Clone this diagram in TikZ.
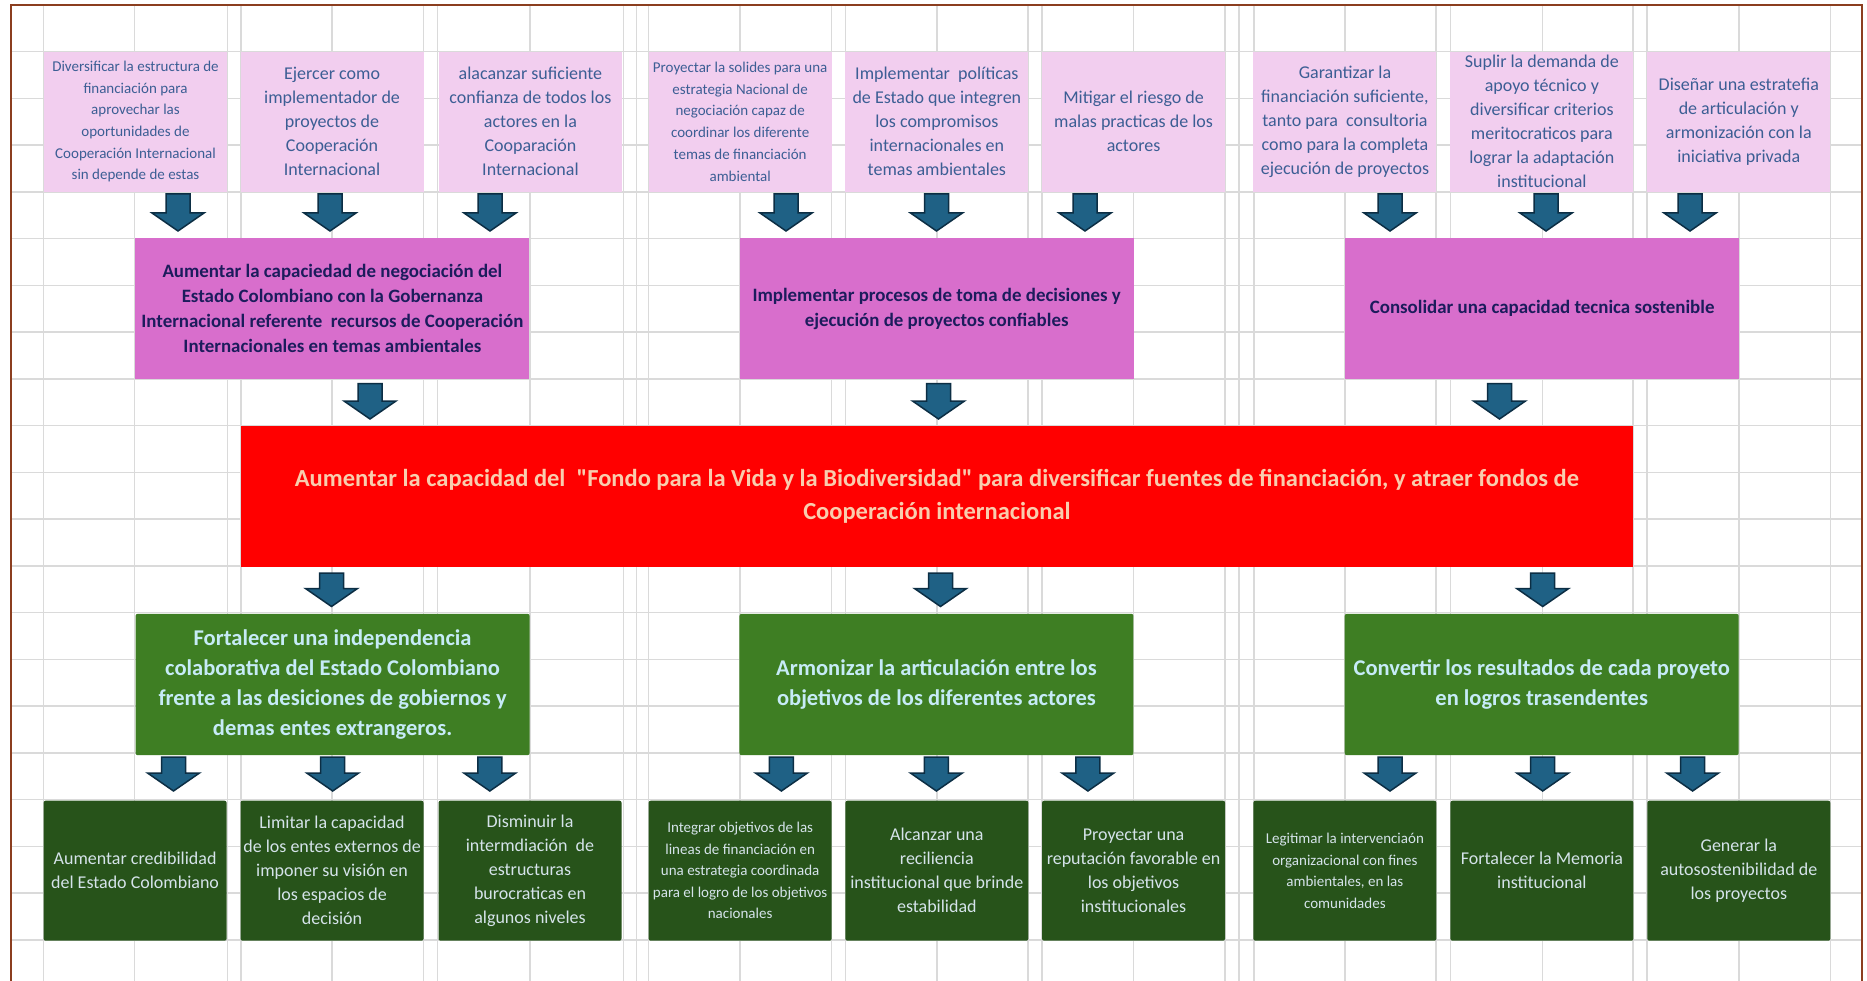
\documentclass[tikz,border=0pt]{standalone}
\usepackage{fontspec}
\setmainfont{Carlito}
\newfontfamily\rawcarlito{Carlito}
\definecolor{toppink}{HTML}{F2CEEF}
\definecolor{topblue}{HTML}{3C5E94}
\definecolor{midpink}{HTML}{D86ECC}
\definecolor{navytxt}{HTML}{1C1C5C}
\definecolor{redfill}{HTML}{FF0000}
\definecolor{redtxt}{HTML}{F9CDAE}
\definecolor{greenfill}{HTML}{3E7E23}
\definecolor{greentxt}{HTML}{C6EBF7}
\definecolor{dgreenfill}{HTML}{27531A}
\definecolor{dgreentxt}{HTML}{D5E3EA}
\definecolor{arrowfill}{HTML}{1F6185}
\definecolor{arrowline}{HTML}{0C2E44}
\definecolor{gridgray}{HTML}{DADADA}
\definecolor{framebrown}{HTML}{8B3E1F}
\newcommand{\blockarrow}[3]{%
  \filldraw[barrow] ({#1-12},#2) -- ({#1+12},#2) -- ({#1+12},{#3-18}) -- ({#1+26},{#3-18}) -- (#1,#3) -- ({#1-26},{#3-18}) -- ({#1-12},{#3-18}) -- cycle;}
\newcommand{\sq}{{\rawcarlito"}}
\begin{document}
\begin{tikzpicture}[x=1pt,y=-1pt,
  base/.style={inner sep=0pt, outer sep=0pt, align=center, anchor=center},
  topbox/.style={base, fill=toppink, text=topblue, minimum width=183pt, minimum height=140pt},
  topsmall/.style={topbox, font=\fontsize{15}{21.7}\selectfont},
  topbig/.style={topbox, font=\fontsize{18}{24}\selectfont},
  midbox/.style={base, fill=midpink, text=navytxt, minimum width=394pt, minimum height=140.7pt, font=\bfseries\fontsize{18.9}{25}\selectfont},
  redbox/.style={base, fill=redfill, text=redtxt, minimum width=1392pt, minimum height=141pt, font=\bfseries\fontsize{24.5}{33}\selectfont},
  greenbox/.style={base, fill=greenfill, text=greentxt, rounded corners=2pt, minimum width=394pt, minimum height=141.3pt, font=\bfseries\fontsize{22.5}{30}\selectfont},
  dgbox/.style={base, fill=dgreenfill, text=dgreentxt, rounded corners=2pt, minimum width=183pt, minimum height=140pt},
  dgbig/.style={dgbox, font=\fontsize{18}{24}\selectfont},
  dgsmall/.style={dgbox, font=\fontsize{15}{21.5}\selectfont},
  gridline/.style={draw=gridgray, line width=1.5pt},
  frameline/.style={draw=framebrown, line width=2pt},
  barrow/.style={fill=arrowfill, draw=arrowline, line width=1.5pt, line join=miter}
]
\useasboundingbox (0,0) rectangle (1867,981);
\fill[white] (0,0) rectangle (1867,981);
% spreadsheet grid
\foreach \gx in {43.7,134.7,227.3,240.8,331.8,423.3,437.6,529.8,623.3,636.7,648.6,739.9,831.7,845.5,937.2,1028.2,1042,1133.4,1225.1,1238.9,1254,1345.2,1435.9,1450.7,1542.7,1633,1647,1739,1830.6}
  \draw[gridline] (\gx,5) -- (\gx,981);
\foreach \k in {0,...,19}
  \draw[gridline] (11.4,{51.7+\k*46.75}) -- (1861.8,{51.7+\k*46.75});
\draw[frameline] (11.4,981) -- (11.4,5) -- (1861.8,5) -- (1861.8,981);

% top row
\node[topsmall] (t1) at (135.5,121.7) {Diversificar la estructura de\\financiación para\\aprovechar las\\oportunidades de\\Cooperación Internacional\\sin depende de estas};
\node[topbig] (t2) at (332.05,121.7) {Ejercer como\\implementador de\\proyectos de\\Cooperación\\Internacional};
\node[topbig] (t3) at (530.45,121.7) {alacanzar suficiente\\confianza de todos los\\actores en la\\Cooparación\\Internacional};
\node[topsmall] (t4) at (740.15,121.7) {Proyectar la solides para una\\estrategia Nacional de\\negociación capaz de\\coordinar los diferente\\temas de financiación\\ambiental};
\node[topbig] (t5) at (936.85,121.7) {Implementar\ \ políticas\\de Estado que integren\\los compromisos\\internacionales en\\temas ambientales};
\node[topbig] (t6) at (1133.55,121.7) {Mitigar el riesgo de\\malas practicas de los\\actores};
\node[topbig] (t7) at (1344.95,121.7) {Garantizar la\\financiación suficiente,\\tanto para\ \ consultoria\\como para la completa\\ejecución de proyectos};
\node[topbig] (t8) at (1541.85,121.7) {Suplir la demanda de\\apoyo técnico y\\diversificar criterios\\meritocraticos para\\lograr la adaptación\\institucional};
\node[topbig] (t9) at (1738.8,121.7) {Diseñar una estratefia\\de articulación y\\armonización con la\\iniciativa privada};

% pink row
\node[midbox] (p1) at (332.4,308.65) {Aumentar la capaciedad de negociación del\\Estado Colombiano con la Gobernanza\\Internacional referente\ \ recursos de Cooperación\\Internacionales en temas ambientales};
\node[midbox] (p2) at (936.65,308.65) {Implementar procesos de toma de decisiones y\\ejecución de proyectos confiables};
\node[midbox] (p3) at (1542.1,308.65) {Consolidar una capacidad tecnica sostenible};

% central red box
\node[redbox] (r) at (936.9,496.2) {Aumentar la capacidad del\ \ \sq Fondo para la Vida y la Biodiversidad\sq\ para diversificar fuentes de financiación, y atraer fondos de\\Cooperación internacional};

% green row
\node[greenbox] (g1) at (332.6,684.5) {Fortalecer una independencia\\colaborativa del Estado Colombiano\\frente a las desiciones de gobiernos y\\demas entes extrangeros.};
\node[greenbox] (g2) at (936.45,684.5) {Armonizar la articulación entre los\\objetivos de los diferentes actores};
\node[greenbox] (g3) at (1541.7,684.5) {Convertir los resultados de cada proyeto\\en logros trasendentes};

% dark green row
\node[dgbig] (d1) at (135.1,870.7) {Aumentar credibilidad\\del Estado Colombiano};
\node[dgbig] (d2) at (332.05,870.7) {Limitar la capacidad\\de los entes externos de\\imponer su visión en\\los espacios de\\decisión};
\node[dgbig] (d3) at (530,870.7) {Disminuir la\\intermdiación\ \ de\\estructuras\\burocraticas en\\algunos niveles};
\node[dgsmall] (d4) at (740.15,870.7) {Integrar objetivos de las\\lineas de financiación en\\una estrategia coordinada\\para el logro de los objetivos\\nacionales};
\node[dgbig] (d5) at (936.85,870.7) {Alcanzar una\\reciliencia\\institucional que brinde\\estabilidad};
\node[dgbig] (d6) at (1133.55,870.7) {Proyectar una\\reputación favorable en\\los objetivos\\institucionales};
\node[dgsmall] (d7) at (1344.85,870.7) {Legitimar la intervenciaón\\organizacional con fines\\ambientales, en las\\comunidades};
\node[dgbig] (d8) at (1541.9,870.7) {Fortalecer la Memoria\\institucional};
\node[dgbig] (d9) at (1738.8,870.7) {Generar la\\autosostenibilidad de\\los proyectos};

% block arrows: top row -> pink row
\foreach \ax in {178,330,490,786,936.5,1085,1390,1546,1690}
  \blockarrow{\ax}{194}{231};
% pink row -> red
\foreach \ax in {370,938.5,1499.5}
  \blockarrow{\ax}{383.5}{419};
% red -> green row
\foreach \ax in {331.5,940.5,1542.7}
  \blockarrow{\ax}{573}{606.5};
% green row -> dark green row
\foreach \ax in {173.5,332.7,489.8,781.4,936.4,1087.9,1390,1542.7,1692.6}
  \blockarrow{\ax}{757}{791};
\end{tikzpicture}
\end{document}
